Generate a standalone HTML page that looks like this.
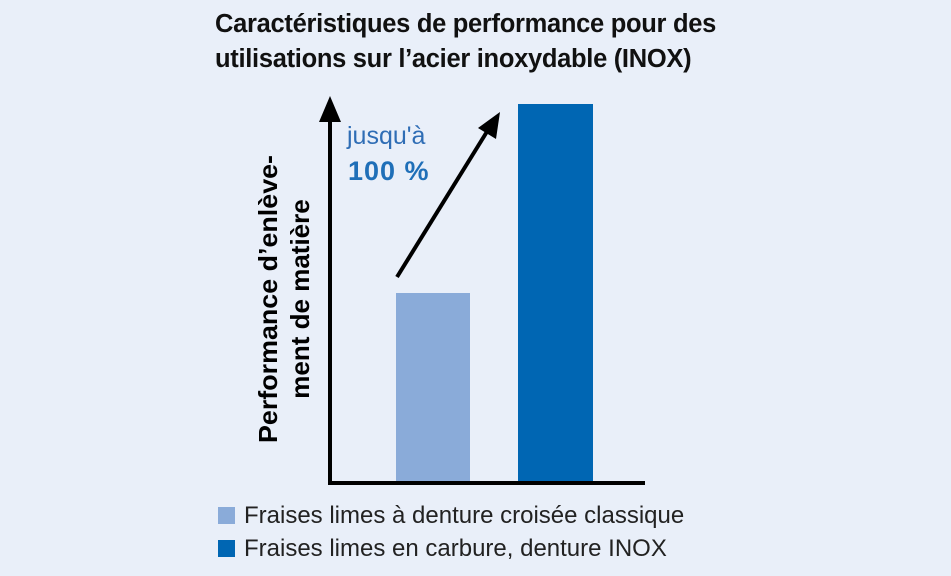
<!DOCTYPE html>
<html><head><style>
body{margin:0;width:951px;height:576px;background:#e9eff9;overflow:hidden;position:relative;font-family:"Liberation Sans",sans-serif}
.t{position:absolute;left:215px;top:7px;font-weight:bold;font-size:25.5px;line-height:35px;color:#111;letter-spacing:-0.3px;white-space:nowrap}
.lg{position:absolute;left:218px;font-size:24px;color:#222;white-space:nowrap}
.lg span{display:inline-block;width:17px;height:17px;vertical-align:-1px;margin-right:9px}
</style></head><body>
<div class="t">Caractéristiques de performance pour des<br>utilisations sur l’acier inoxydable (INOX)</div>
<svg width="951" height="576" style="position:absolute;left:0;top:0">
<rect x="396" y="293" width="74" height="189" fill="#8aabd9"/>
<rect x="518" y="104" width="75" height="378" fill="#0066b3"/>
<line x1="330" y1="484" x2="330" y2="118" stroke="#000" stroke-width="4"/>
<polygon points="330,96 319,122 341,122" fill="#000"/>
<line x1="328" y1="483" x2="645" y2="483" stroke="#000" stroke-width="4"/>
<line x1="397" y1="277" x2="488" y2="130" stroke="#000" stroke-width="4"/>
<polygon points="500,112 478,128 496,139" fill="#000"/>
<text x="347" y="144" font-size="25" fill="#2f6db5">jusqu'à</text>
<text x="348" y="180" font-size="27" font-weight="bold" fill="#1f6fb8" letter-spacing="1">100 %</text>
<text transform="translate(277,299) rotate(-90)" text-anchor="middle" font-size="26" font-weight="bold" fill="#000" textLength="288" lengthAdjust="spacingAndGlyphs">Performance d’enlève-</text>
<text transform="translate(309,299) rotate(-90)" text-anchor="middle" font-size="26" font-weight="bold" fill="#000">ment de matière</text>
</svg>
<div class="lg" style="top:502px"><span style="background:#8aabd9"></span>Fraises limes à denture croisée classique</div>
<div class="lg" style="top:535px"><span style="background:#0066b3"></span>Fraises limes en carbure, denture INOX</div>
</body></html>
